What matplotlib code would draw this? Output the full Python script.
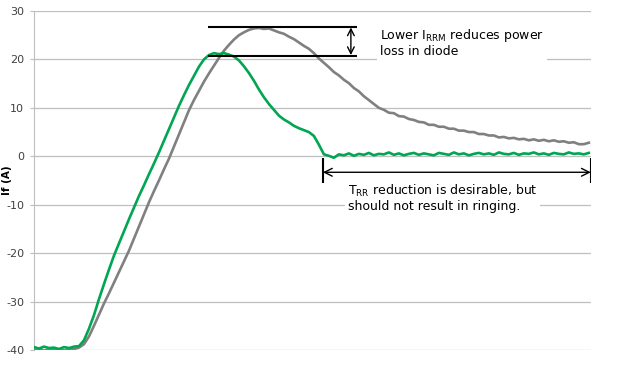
import numpy as np
import matplotlib
matplotlib.use('Agg')
import matplotlib.pyplot as plt

plt.rcParams['axes.unicode_minus'] = False

# diode reverse recovery current, one sample every ~5 px of the trace
green_if = [-39.4, -39.7, -39.3, -39.6, -39.5, -39.8, -39.4, -39.6, -39.3, -39.2,
            -38.0, -35.6, -32.8, -29.5, -26.4, -23.4, -20.5, -18.0, -15.5, -13.0,
            -10.6, -8.2, -6.0, -3.7, -1.5, 0.8, 3.2, 5.6, 8.0, 10.4,
            12.6, 14.7, 16.6, 18.5, 20.0, 20.9, 21.3, 21.1, 21.3, 21.0,
            20.6, 19.8, 18.6, 17.2, 15.6, 13.8, 12.2, 10.8, 9.6, 8.4,
            7.6, 7.0, 6.3, 5.8, 5.4, 5.0, 4.2, 2.4, 0.4, 0.1,
            -0.3, 0.4, 0.2, 0.6, 0.1, 0.5, 0.3, 0.7, 0.2, 0.5,
            0.4, 0.8, 0.3, 0.6, 0.2, 0.5, 0.7, 0.3, 0.6, 0.4,
            0.2, 0.7, 0.5, 0.3, 0.8, 0.4, 0.6, 0.2, 0.5, 0.7,
            0.4, 0.6, 0.3, 0.8, 0.5, 0.4, 0.7, 0.3, 0.6, 0.5,
            0.8, 0.4, 0.6, 0.3, 0.7, 0.5, 0.4, 0.8, 0.5, 0.6,
            0.4, 0.7]

gray_if = [-40.0, -39.8, -40.1, -39.9, -40.0, -39.8, -40.1, -39.9, -39.8, -39.5,
           -38.8, -37.2, -35.0, -32.7, -30.4, -28.3, -26.1, -23.9, -21.7, -19.5,
           -17.0, -14.5, -12.0, -9.5, -7.2, -5.0, -2.7, -0.5, 2.0, 4.5,
           7.0, 9.5, 11.6, 13.5, 15.4, 17.1, 18.7, 20.3, 21.8, 23.0,
           24.1, 25.0, 25.6, 26.1, 26.4, 26.5, 26.3, 26.4, 26.0, 25.6,
           25.3, 24.7, 24.2, 23.5, 22.8, 22.2, 21.3, 20.2, 19.3, 18.4,
           17.4, 16.7, 15.8, 15.1, 14.1, 13.4, 12.4, 11.6, 10.8, 10.0,
           9.6, 9.0, 8.9, 8.3, 8.2, 7.7, 7.5, 7.1, 7.0, 6.5,
           6.5, 6.1, 6.1, 5.7, 5.7, 5.3, 5.3, 5.0, 5.0, 4.6,
           4.6, 4.3, 4.3, 3.9, 4.0, 3.7, 3.8, 3.5, 3.6, 3.3,
           3.5, 3.2, 3.4, 3.1, 3.3, 3.0, 3.1, 2.8, 2.9, 2.5,
           2.5, 2.8]

y_ticks = [-40, -30, -20, -10, 0, 10, 20, 30]

t = np.arange(len(green_if))

fig = plt.figure(figsize=(6.18, 3.67), dpi=100)
ax = fig.add_axes([0.055, 0.0463, 0.901, 0.9237])

ax.plot(t, gray_if, color='#808080', lw=1.9, zorder=3)
ax.plot(t, green_if, color='#00A651', lw=1.9, zorder=4)

ax.set_xlim(0, 111.4)
ax.set_ylim(-40, 30)
ax.set_yticks(y_ticks)
ax.set_xticks([])
ax.grid(axis='y', color='#bfbfbf', lw=0.9)
ax.set_axisbelow(True)
for s in ['top', 'right', 'bottom']:
    ax.spines[s].set_visible(False)
ax.spines['left'].set_color('#bfbfbf')
ax.tick_params(axis='y', length=3, color='#bfbfbf', labelsize=8,
               labelcolor='#404040', pad=4)
ax.set_ylabel('If (A)', fontsize=7.5, fontweight='bold')
ax.yaxis.set_label_coords(-0.04, 0.5)

# I_RRM markers
ax.hlines([26.8, 20.7], 34.8, 64.6, color='black', lw=1.5, zorder=5)
ax.annotate('', xy=(63.4, 20.9), xytext=(63.4, 26.6),
            arrowprops=dict(arrowstyle='<->', color='black', lw=1,
                            mutation_scale=12, shrinkA=0, shrinkB=0))
ax.text(69.2, 23.5, 'Lower I$_{\\mathregular{RRM}}$ reduces power\nloss in diode',
        fontsize=9, va='center', ha='left', linespacing=1.1, zorder=6,
        bbox=dict(facecolor='white', edgecolor='none', pad=2))

# T_RR span
ax.annotate('', xy=(57.8, -3.3), xytext=(111.4, -3.3),
            arrowprops=dict(arrowstyle='<->', color='black', lw=1,
                            mutation_scale=14, shrinkA=0, shrinkB=0))
ax.vlines([57.8, 111.4], -5.6, -0.4, color='black', lw=1.5, zorder=5)
ax.text(62.8, -8.6, 'T$_{\\mathregular{RR}}$ reduction is desirable, but\nshould not result in ringing.',
        fontsize=9, va='center', ha='left', linespacing=1.1, zorder=6,
        bbox=dict(facecolor='white', edgecolor='none', pad=2))

plt.savefig('out.png', dpi=100)
